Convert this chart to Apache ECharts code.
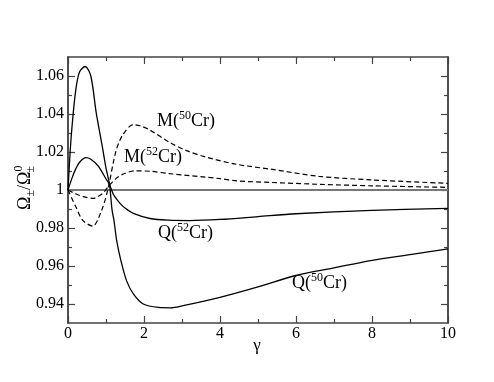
<!DOCTYPE html>
<html>
<head>
<meta charset="utf-8">
<script src="https://cdn.jsdelivr.net/npm/echarts@6/dist/echarts.min.js"></script>
<style>
  html, body { margin: 0; padding: 0; background: #fff; }
  #chart { width: 494px; height: 382px; }
</style>
</head>
<body>
<div id="chart"></div>
<script>
// data
const q50X = [0, 0.05, 0.1, 0.2, 0.3, 0.45, 0.6, 0.74, 0.91, 1.0, 1.09, 1.16, 1.21, 1.28, 1.39, 1.54, 1.72, 1.98, 2.38, 2.7, 3, 4, 5, 6, 7, 8, 9, 10]
const q50Y = [1, 1.018, 1.032, 1.052, 1.062, 1.065, 1.06, 1.041, 1.022, 1.0115, 1.0032, 0.9894, 0.984, 0.9735, 0.963, 0.9523, 0.9453, 0.940, 0.9382, 0.938, 0.939, 0.9435, 0.949, 0.955, 0.959, 0.963, 0.966, 0.969]

const q52X = [0, 0.1, 0.2, 0.3, 0.47, 0.6, 0.8, 1.0, 1.09, 1.2, 1.37, 1.5, 1.72, 2.16, 2.64, 3.2, 4, 5, 6, 8, 10]
const q52Y = [1, 1.006, 1.011, 1.0145, 1.017, 1.0162, 1.0125, 1.0058, 1.003, 0.9975, 0.993, 0.9905, 0.9877, 0.985, 0.9841, 0.9839, 0.9845, 0.986, 0.9875, 0.9893, 0.9903]

const m50X = [0, 0.21, 0.39, 0.65, 0.87, 1.04, 1.26, 1.44, 1.72, 1.9, 2.16, 2.68, 3.12, 3.65, 4.44, 5.32, 6.6, 8, 10]
const m50Y = [1, 0.991, 0.984, 0.981, 0.9885, 0.9995, 1.0203, 1.029, 1.0344, 1.0338, 1.0315, 1.025, 1.0207, 1.0172, 1.0135, 1.011, 1.0072, 1.0053, 1.0035]

const m52X = [0, 0.2, 0.4, 0.65, 0.9, 1.07, 1.26, 1.5, 1.76, 2.2, 2.68, 4, 4.44, 5.32, 6.6, 8, 10]
const m52Y = [1, 0.998, 0.9965, 0.9956, 0.998, 1.002, 1.006, 1.0088, 1.0101, 1.0098, 1.0086, 1.006, 1.0048, 1.004, 1.003, 1.0022, 1.0014]

const refX = [0, 10]
const refY = [1, 1]

const yMajor = [0.94, 0.96, 0.98, 1, 1.02, 1.04, 1.06]
const yMinor = [0.95, 0.97, 0.99, 1.01, 1.03, 1.05]

function pairs(xs, ys) {
    return xs.map((x, i) => [x, ys[i]])
}

const font = 'Liberation Serif'
const axisCol = '#444'

function yAxisDef(pos, ticks, len, showLabel) {
    return {
        type: 'value', position: pos, min: 0.93, max: 1.07,
        axisLine: { show: true, onZero: false, lineStyle: { color: axisCol, width: 1.5 } },
        axisTick: { show: true, inside: true, length: len, customValues: ticks, lineStyle: { color: axisCol, width: 1.2 } },
        axisLabel: { show: showLabel, customValues: ticks, color: '#000', fontFamily: font, fontSize: 16, margin: 4 },
        splitLine: { show: false }
    }
}

function xAxisDef(pos, showLabel) {
    return {
        type: 'value', position: pos, min: 0, max: 10, interval: 2,
        axisLine: { show: true, onZero: false, lineStyle: { color: axisCol, width: 1.5 } },
        axisTick: { show: true, inside: true, length: 7, lineStyle: { color: axisCol, width: 1.2 } },
        minorTick: { show: true, splitNumber: 2, length: 4, lineStyle: { color: axisCol, width: 1.2 } },
        axisLabel: { show: showLabel, color: '#000', fontFamily: font, fontSize: 16, margin: 3 },
        splitLine: { show: false }
    }
}

const chart = echarts.init(document.getElementById('chart'))

// axis titles as graphic text (rich text for sub/superscripts)
const yTitle = {
    type: 'text', x: 25, y: 188, rotation: Math.PI / 2,
    style: {
        text: '{a|Ω}{sb|±}{a|/Ω}{sp|0}{sb2|±}',
        align: 'center', verticalAlign: 'middle',
        rich: {
            a: { fontFamily: font, fontSize: 18, fill: '#000' },
            sb: { fontFamily: font, fontSize: 12, fill: '#000', padding: [11, 0, 0, 0] },
            sb2: { fontFamily: font, fontSize: 12, fill: '#000', padding: [11, 0, 0, -7] },
            sp: { fontFamily: font, fontSize: 12, fill: '#000', padding: [0, 0, 13, 0] }
        }
    }
}
const xTitle = {
    type: 'text', x: 257, y: 346,
    style: { text: 'γ', font: '17px "Liberation Serif"', fill: '#000', align: 'center', verticalAlign: 'middle' }
}

const labelRich = {
    t: { fontFamily: font, fontSize: 18, color: '#000' },
    s: { fontFamily: font, fontSize: 12, color: '#000', padding: [0, 0, 11, 0] }
}

function curveLabel(x, y, iso, letter) {
    return {
        type: 'text', left: x, top: y,
        style: {
            text: '{t|' + letter + '(}{s|' + iso + '}{t|Cr)}',
            rich: labelRich
        }
    }
}

const option = {
    animation: false,
    backgroundColor: '#fff',
    grid: { left: 68, right: 46, top: 57, bottom: 59, outerBoundsMode: 'none' },
    xAxis: [xAxisDef('bottom', true), xAxisDef('top', false)],
    yAxis: [
        yAxisDef('left', yMajor, 7, true),
        yAxisDef('left', yMinor, 4, false),
        yAxisDef('right', yMajor, 7, false),
        yAxisDef('right', yMinor, 4, false)
    ],
    graphic: [
        yTitle,
        xTitle,
        curveLabel(157, 110, '50', 'M'),
        curveLabel(124, 146, '52', 'M'),
        curveLabel(158, 222, '52', 'Q'),
        curveLabel(292, 272, '50', 'Q')
    ],
    series: [
        {
            name: 'ref', type: 'line', data: pairs(refX, refY), symbol: 'none',
            lineStyle: { color: '#777', width: 2 }
        },
        {
            name: 'Q50', type: 'line', data: pairs(q50X, q50Y), symbol: 'none', smooth: 0.3,
            lineStyle: { color: '#000', width: 1.3 }
        },
        {
            name: 'Q52', type: 'line', data: pairs(q52X, q52Y), symbol: 'none', smooth: 0.3,
            lineStyle: { color: '#000', width: 1.3 }
        },
        {
            name: 'M50', type: 'line', data: pairs(m50X, m50Y), symbol: 'none', smooth: 0.3,
            lineStyle: { color: '#000', width: 1.2, type: [5, 3] }
        },
        {
            name: 'M52', type: 'line', data: pairs(m52X, m52Y), symbol: 'none', smooth: 0.3,
            lineStyle: { color: '#000', width: 1.2, type: [5, 3] }
        }
    ]
}
chart.setOption(option)
</script>
</body>
</html>
